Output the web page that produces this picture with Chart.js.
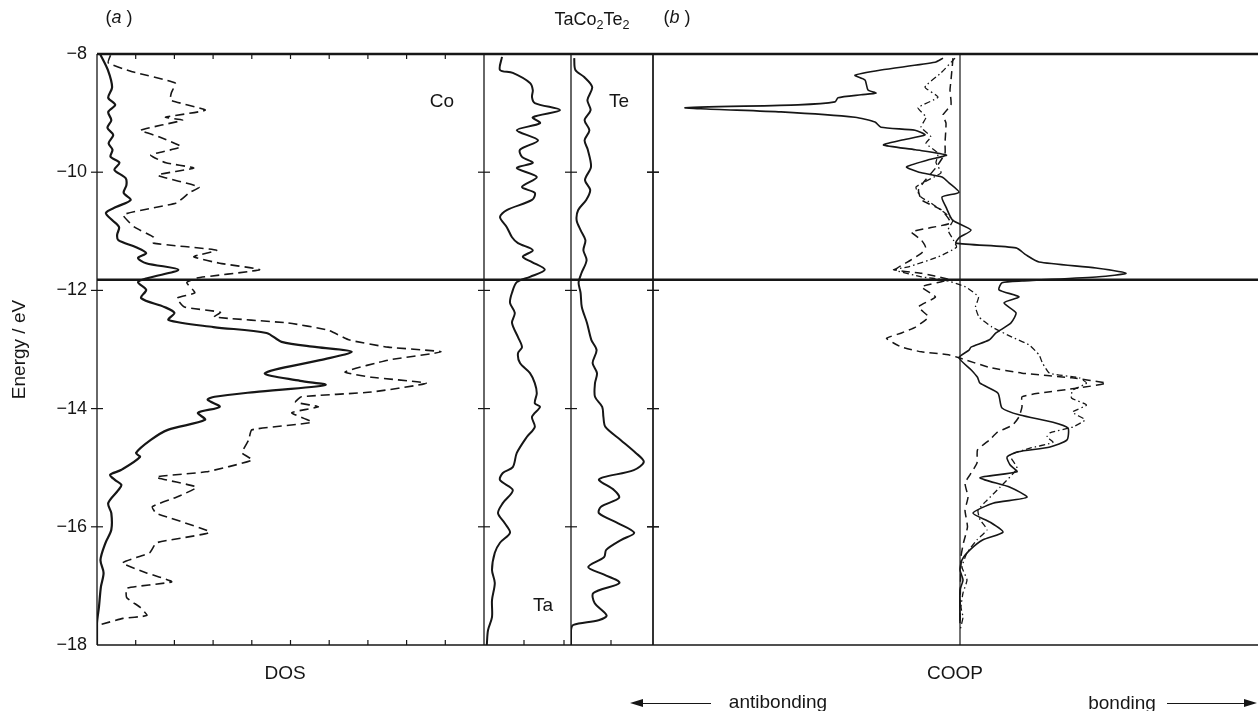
<!DOCTYPE html>
<html lang="en">
<head>
<meta charset="UTF-8">
<title>TaCo2Te2 DOS and COOP</title>
<script src="https://cdn.jsdelivr.net/npm/chart.js"></script>
<style>
  body { margin: 0; background: #fff; width: 1258px; height: 711px; overflow: hidden; position: relative;
         font-family: "Liberation Sans", Arial, sans-serif; color: #161616; }
  canvas { position: absolute; left: 0; top: 0; }
  .lbl { position: absolute; font-size: 19px; line-height: 1; white-space: nowrap; transform: translate(-50%, -50%); }
  .lbl sub { font-size: 70%; vertical-align: -0.35em; line-height: 0; }
  .arrow { position: absolute; height: 0; border-top: 1.6px solid #161616; }
  .arrow.to-left::before { content: ''; position: absolute; left: -3px; top: -5px;
         border-right: 13px solid #161616; border-top: 4px solid transparent; border-bottom: 4px solid transparent; }
  .arrow.to-right::after { content: ''; position: absolute; right: -3px; top: -5px;
         border-left: 13px solid #161616; border-top: 4px solid transparent; border-bottom: 4px solid transparent; }
</style>
</head>
<body>
<canvas id="cDos" width="1258" height="711"></canvas>
<canvas id="cTa" width="1258" height="711"></canvas>
<canvas id="cTe" width="1258" height="711"></canvas>
<canvas id="cCoop" width="1258" height="711"></canvas>

<div class="lbl" style="left:119px; top:17px; font-size:18px;">(<i>a</i> )</div>
<div class="lbl" style="left:592px; top:19px; font-size:18px;">TaCo<sub>2</sub>Te<sub>2</sub></div>
<div class="lbl" style="left:677px; top:17px; font-size:18px;">(<i>b</i> )</div>
<div class="lbl" style="left:442px; top:100px;">Co</div>
<div class="lbl" style="left:619px; top:100px;">Te</div>
<div class="lbl" style="left:543px; top:604px;">Ta</div>
<div class="lbl" style="left:285px; top:672px;">DOS</div>
<div class="lbl" style="left:955px; top:672px;">COOP</div>
<div class="arrow to-left" style="left:633px; top:703px; width:78px;"></div>
<div class="lbl" style="left:778px; top:701px;">antibonding</div>
<div class="lbl" style="left:1122px; top:702px;">bonding</div>
<div class="arrow to-right" style="left:1167px; top:703px; width:87px;"></div>

<script>
// energy axis (eV)
const energyTicks = [-8, -10, -12, -14, -16, -18];
const fermiLevel = -11.82;

// (a) DOS: total (dashed) and Co projection (solid)
const dosTotalE = [-8.02,-8.15,-8.30,-8.49,-8.66,-8.78,-8.95,-9.07,-9.12,-9.29,-9.40,-9.57,-9.71,-9.84,-9.93,-10.05,-10.25,-10.35,-10.52,-10.72,-10.93,-11.10,-11.20,-11.32,-11.43,-11.54,-11.65,-11.79,-11.87,-12.04,-12.13,-12.28,-12.37,-12.45,-12.55,-12.67,-12.84,-12.96,-13.04,-13.18,-13.38,-13.47,-13.57,-13.72,-13.80,-13.89,-13.97,-14.07,-14.23,-14.36,-14.53,-14.75,-14.87,-15.07,-15.16,-15.33,-15.50,-15.66,-15.77,-16.09,-16.27,-16.44,-16.61,-16.78,-16.93,-17.04,-17.20,-17.36,-17.50,-17.55,-17.65];
const dosTotal = [0.35,0.29,0.91,2.02,1.92,1.90,2.80,1.77,2.21,1.13,1.60,2.17,1.39,1.78,2.50,1.57,2.64,2.38,2.05,0.68,0.97,1.46,1.46,3.09,2.50,3.17,4.20,2.58,2.32,2.53,2.07,2.26,3.19,3.03,4.92,5.96,6.53,7.52,8.89,7.52,6.41,7.09,8.51,7.09,5.28,5.13,5.72,5.03,5.55,4.00,3.92,3.75,4.01,2.82,1.53,2.57,2.05,1.43,1.53,2.91,1.54,1.36,0.66,1.28,1.93,0.77,0.77,1.11,1.29,0.67,0.12];

const dosCoE = [-8.0,-8.27,-8.56,-8.74,-8.86,-8.98,-9.12,-9.25,-9.37,-9.51,-9.62,-9.74,-9.84,-9.96,-10.10,-10.22,-10.35,-10.47,-10.59,-10.69,-10.81,-10.93,-11.06,-11.15,-11.27,-11.37,-11.45,-11.54,-11.65,-11.79,-11.86,-11.99,-12.13,-12.28,-12.38,-12.50,-12.62,-12.72,-12.87,-12.96,-13.04,-13.18,-13.40,-13.53,-13.60,-13.72,-13.80,-13.85,-13.97,-14.07,-14.19,-14.36,-14.53,-14.75,-14.82,-15.04,-15.12,-15.21,-15.29,-15.38,-15.60,-15.77,-16.05,-16.27,-16.56,-16.78,-17.02,-17.36,-17.63,-18.0];
const dosCo = [0.08,0.28,0.39,0.29,0.47,0.29,0.37,0.27,0.42,0.30,0.40,0.35,0.58,0.45,0.74,0.76,0.69,0.87,0.49,0.23,0.39,0.57,0.52,0.55,1.01,1.27,1.06,1.27,2.10,1.32,1.06,1.27,1.14,1.74,2.00,1.85,3.01,4.38,4.77,5.68,6.58,5.76,4.34,5.25,5.90,4.07,3.04,2.86,3.17,2.61,2.79,1.83,1.39,1.01,1.11,0.62,0.34,0.47,0.63,0.55,0.29,0.37,0.37,0.22,0.09,0.17,0.10,0.05,0.0,0.0];

// Ta and Te projections
const dosTaE = [-8.05,-8.27,-8.32,-8.49,-8.61,-8.73,-8.83,-8.95,-9.07,-9.17,-9.29,-9.46,-9.62,-9.74,-9.84,-9.93,-10.08,-10.25,-10.35,-10.47,-10.64,-10.76,-10.93,-11.10,-11.20,-11.32,-11.43,-11.52,-11.65,-11.77,-11.86,-12.04,-12.21,-12.38,-12.55,-12.79,-12.96,-13.06,-13.23,-13.40,-13.57,-13.74,-13.91,-13.97,-14.14,-14.31,-14.48,-14.75,-14.99,-15.09,-15.21,-15.38,-15.60,-15.77,-15.94,-16.10,-16.27,-16.44,-16.73,-16.95,-17.24,-17.53,-17.75,-18.0];
const dosTa = [0.45,0.40,0.72,1.15,1.22,1.20,1.27,1.90,1.22,1.40,0.82,1.35,0.90,0.95,1.22,0.82,1.32,0.95,1.27,1.20,0.57,0.40,0.57,0.70,0.85,1.22,0.97,1.20,1.52,1.15,0.82,0.70,0.65,0.77,0.70,0.85,0.95,0.85,0.90,1.15,1.27,1.32,1.27,1.40,1.20,1.27,1.07,0.82,0.72,0.47,0.40,0.72,0.47,0.35,0.52,0.65,0.40,0.27,0.20,0.27,0.20,0.20,0.10,0.07];

const dosTeE = [-8.07,-8.27,-8.39,-8.56,-8.78,-8.95,-9.12,-9.29,-9.46,-9.62,-9.91,-10.13,-10.30,-10.47,-10.64,-10.81,-10.98,-11.15,-11.32,-11.49,-11.71,-11.87,-12.04,-12.28,-12.55,-12.84,-13.01,-13.23,-13.40,-13.57,-13.80,-13.97,-14.14,-14.31,-14.53,-14.75,-14.90,-15.04,-15.16,-15.21,-15.38,-15.51,-15.66,-15.77,-15.94,-16.10,-16.22,-16.39,-16.51,-16.68,-16.81,-16.95,-17.12,-17.29,-17.50,-17.58,-17.66,-17.75,-18.0];
const dosTe = [0.08,0.11,0.33,0.53,0.41,0.49,0.34,0.46,0.34,0.42,0.50,0.35,0.48,0.38,0.18,0.14,0.24,0.36,0.31,0.39,0.26,0.19,0.24,0.27,0.40,0.51,0.64,0.54,0.65,0.60,0.60,0.78,0.81,0.86,1.24,1.62,1.82,1.57,0.82,0.70,1.08,1.20,0.75,0.70,1.18,1.58,1.26,0.88,0.83,0.43,0.83,1.21,0.56,0.59,0.89,0.69,0.06,0.0,0.0];

// (b) COOP curves: solid, dashed, dash-dot
const coopSolidE = [-8.07,-8.14,-8.27,-8.36,-8.44,-8.61,-8.66,-8.69,-8.74,-8.81,-8.86,-8.91,-8.98,-9.07,-9.15,-9.24,-9.29,-9.37,-9.46,-9.54,-9.62,-9.71,-9.79,-9.91,-10.00,-10.08,-10.18,-10.34,-10.42,-10.59,-10.81,-10.98,-11.11,-11.20,-11.28,-11.40,-11.52,-11.62,-11.71,-11.77,-11.84,-11.87,-11.99,-12.11,-12.21,-12.38,-12.55,-12.72,-12.84,-12.96,-13.01,-13.14,-13.35,-13.47,-13.57,-13.74,-13.99,-14.11,-14.23,-14.33,-14.53,-14.65,-14.73,-14.82,-14.95,-15.07,-15.17,-15.33,-15.50,-15.60,-15.77,-15.92,-16.09,-16.22,-16.39,-16.56,-16.73,-16.90,-17.07,-17.63];
const coopSolid = [-0.34,-0.50,-1.58,-2.10,-1.90,-1.84,-1.68,-1.98,-2.44,-2.50,-3.24,-5.50,-3.58,-2.10,-1.70,-1.58,-0.90,-0.70,-1.18,-1.53,-0.89,-0.27,-0.63,-1.07,-0.82,-0.36,-0.22,-0.02,-0.36,-0.28,-0.15,0.22,-0.02,-0.08,1.12,1.32,1.58,2.72,3.32,2.78,1.24,0.84,0.78,1.18,0.88,1.12,1.02,0.72,0.58,0.22,0.18,-0.02,0.23,0.35,0.40,0.76,0.84,1.20,1.86,2.16,2.14,1.80,1.16,0.94,1.00,1.14,0.40,1.00,1.34,0.66,0.26,0.60,0.86,0.46,0.20,0.04,0.0,0.06,0.0,0.0];

const coopDashE = [-8.07,-8.44,-8.61,-8.86,-9.03,-9.17,-9.51,-9.68,-9.91,-10.13,-10.30,-10.47,-10.64,-10.86,-11.01,-11.15,-11.27,-11.37,-11.49,-11.65,-11.71,-11.82,-11.94,-12.11,-12.28,-12.45,-12.62,-12.72,-12.81,-12.89,-12.96,-13.04,-13.09,-13.14,-13.30,-13.40,-13.48,-13.57,-13.65,-13.74,-13.80,-13.97,-14.14,-14.28,-14.40,-14.53,-14.70,-14.92,-15.12,-15.26,-15.50,-15.72,-16.00,-16.27,-16.51,-17.63];
const coopDash = [-0.14,-0.18,-0.20,-0.18,-0.34,-0.28,-0.30,-0.30,-0.47,-0.69,-0.83,-0.77,-0.37,-0.19,-0.97,-0.77,-0.69,-0.77,-0.99,-1.29,-0.77,-0.23,-0.77,-0.49,-0.83,-0.63,-0.89,-1.17,-1.47,-1.33,-1.17,-0.77,-0.23,-0.02,0.58,1.24,2.24,2.92,2.38,1.58,1.24,1.24,1.18,1.05,0.75,0.59,0.35,0.34,0.20,0.10,0.16,0.10,0.15,0.07,0.02,0.0];

const coopDotE = [-8.07,-8.32,-8.56,-8.73,-8.91,-9.07,-9.24,-9.40,-9.51,-9.68,-9.84,-10.01,-10.25,-10.42,-10.52,-10.69,-10.81,-10.98,-11.15,-11.27,-11.43,-11.60,-11.65,-11.77,-11.82,-11.94,-12.11,-12.28,-12.45,-12.62,-12.79,-12.92,-13.09,-13.23,-13.40,-13.48,-13.57,-13.69,-13.82,-13.94,-14.06,-14.19,-14.31,-14.41,-14.48,-14.57,-14.67,-14.79,-15.01,-15.33,-15.55,-15.72,-15.88,-16.05,-16.22,-16.44,-16.68,-16.90,-17.12,-17.36,-17.53,-17.75];
const coopDot = [-0.10,-0.38,-0.70,-0.44,-0.84,-0.68,-0.78,-0.58,-0.68,-0.44,-0.48,-0.38,-0.88,-0.78,-0.58,-0.30,-0.14,-0.24,-0.13,-0.07,-0.43,-1.03,-1.33,-0.77,-0.33,0.11,0.37,0.31,0.38,0.64,1.04,1.38,1.58,1.65,1.79,2.39,2.53,2.25,2.23,2.53,2.25,2.50,2.26,1.80,1.74,1.86,1.40,1.00,1.14,0.80,0.54,0.36,0.40,0.54,0.34,0.14,0.04,0.14,0.06,0.02,0.06,0.0];

const ink = '#161616';
const font = 'Liberation Sans, Arial, sans-serif';

function pairs(es, vs) {
    const n = Math.min(es.length, vs.length);
    const out = [];
    for (let i = 0; i < n; i++) out.push({ x: vs[i], y: es[i] });
    return out;
}

function curve(es, vs, width, dash, tension) {
    return {
        data: pairs(es, vs),
        showLine: true,
        borderColor: ink,
        borderWidth: width,
        borderDash: dash,
        pointRadius: 0,
        tension: tension,
        fill: false
    };
}

// the Fermi level line drawn in every panel
function fermi(xMin, xMax) {
    return {
        data: [{ x: xMin, y: fermiLevel }, { x: xMax, y: fermiLevel }],
        showLine: true, borderColor: ink, borderWidth: 2.6, pointRadius: 0
    };
}

// panel frame: top/bottom edges, side edges with cross ticks, inner x ticks
const panelFrame = {
    id: 'panelFrame',
    afterDatasetsDraw(chart, args, opts) {
        const { ctx, chartArea: a, scales: { x, y } } = chart;
        const seg = (x1, y1, x2, y2, w) => {
            ctx.lineWidth = w;
            ctx.beginPath(); ctx.moveTo(x1, y1); ctx.lineTo(x2, y2); ctx.stroke();
        };
        ctx.save();
        ctx.strokeStyle = ink;
        seg(a.left, a.top, a.right, a.top, 2.4);
        seg(a.left, a.bottom, a.right, a.bottom, 1.6);
        const sides = [];
        if (opts.left) sides.push(a.left);
        if (opts.right) sides.push(a.right);
        sides.forEach(px => {
            seg(px, a.top, px, a.bottom, 1.3);
            energyTicks.slice(1, -1).forEach(v => {
                const py = y.getPixelForValue(v);
                seg(px - 6, py, px + 6, py, 1.2);
            });
        });
        if (opts.zero) {
            const px = x.getPixelForValue(0);
            seg(px, a.top, px, a.bottom, 1.2);
        }
        if (opts.xTicks) {
            for (let v = Math.floor(x.min) + 1; v < x.max - 0.1; v++) {
                const px = x.getPixelForValue(v);
                seg(px, a.bottom, px, a.bottom - 5, 1.2);
                if (opts.xTicksTop) seg(px, a.top, px, a.top + 5, 1.2);
            }
        }
        ctx.restore();
    }
};

function panel(id, left, right, xMin, xMax, datasets, frame, showEnergyAxis) {
    new Chart(document.getElementById(id), {
        type: 'scatter',
        data: { datasets: datasets.concat([fermi(xMin, xMax)]) },
        plugins: [panelFrame],
        options: {
            responsive: false,
            animation: false,
            events: [],
            layout: { padding: { left: showEnergyAxis ? 0 : left, right: 1258 - right, top: 54, bottom: 66 } },
            plugins: { legend: { display: false }, tooltip: { enabled: false }, panelFrame: frame },
            scales: {
                x: { type: 'linear', min: xMin, max: xMax, display: false },
                y: {
                    type: 'linear', min: -18, max: -8,
                    display: showEnergyAxis,
                    afterFit: s => { s.width = showEnergyAxis ? left : 0; },
                    grid: { display: false, drawTicks: false },
                    border: { display: false },
                    ticks: {
                        stepSize: 2, padding: 10, color: ink,
                        font: { family: font, size: 18 },
                        callback: v => (v < 0 ? '\u2212' : '') + Math.abs(v)
                    },
                    title: {
                        display: showEnergyAxis, text: 'Energy / eV', color: ink,
                        font: { family: font, size: 19 }, padding: { top: 8, bottom: 0 }
                    }
                }
            }
        }
    });
}

panel('cDos', 97, 484, 0, 10, [
    curve(dosCoE, dosCo, 2.2, [], 0.3),
    curve(dosTotalE, dosTotal, 1.6, [9, 5], 0.15)
], { left: true, right: true, xTicks: true, xTicksTop: true }, true);

panel('cTa', 484, 571, 0, 2.175, [
    curve(dosTaE, dosTa, 2.0, [], 0.3)
], { right: true, xTicks: true }, false);

panel('cTe', 571, 653, 0, 2.05, [
    curve(dosTeE, dosTe, 2.0, [], 0.3)
], { right: true, xTicks: true }, false);

panel('cCoop', 653, 1258, -6.14, 5.96, [
    curve(coopSolidE, coopSolid, 1.6, [], 0.2),
    curve(coopDashE, coopDash, 1.5, [8, 5], 0.15),
    curve(coopDotE, coopDot, 1.3, [6, 3, 1.5, 3], 0.15)
], { left: true, zero: true }, false);
</script>
</body>
</html>
